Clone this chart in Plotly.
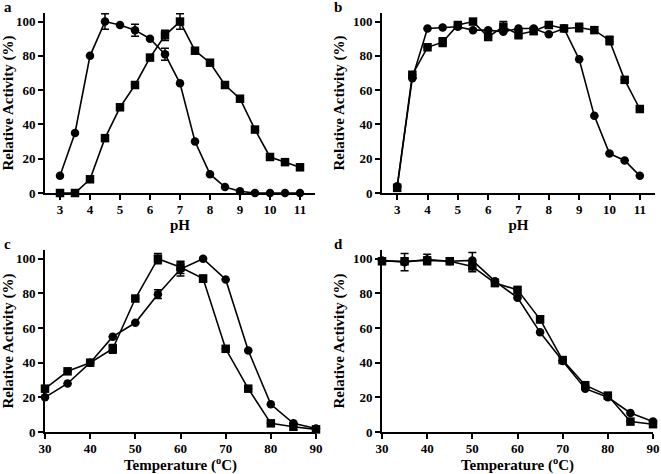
import plotly.graph_objects as go

# ---------------- data ----------------
ph = [3, 3.5, 4, 4.5, 5, 5.5, 6, 6.5, 7, 7.5, 8, 8.5, 9, 9.5, 10, 10.5, 11]
temp = [30, 35, 40, 45, 50, 55, 60, 65, 70, 75, 80, 85, 90]

a_circle = [10, 35, 80, 100, 98, 95, 90, 81, 64, 30, 11, 3.5, 1, 0, 0, 0, 0]
a_circle_err = [None, None, None, 4.5, None, 3.5, None, 3.5, None, None, None, None, None, None, None, None, None]
a_square = [0, 0, 8, 32, 50, 63, 79, 92, 100, 83, 76, 63, 55, 37, 21, 18, 15]
a_square_err = [None, None, None, None, None, None, None, 3, 4.5, None, None, None, None, None, None, None, None]

b_circle = [4, 67, 96, 96.5, 97, 95, 95, 94, 96, 96, 92.6, 96, 78, 45, 23, 19, 10]
b_circle_err = [None] * 17
b_square = [3, 69, 85, 88, 98, 100, 91, 97, 92.5, 94.5, 98, 96, 96.5, 95, 89, 66, 49]
b_square_err = [None, None, None, 2.5, None, None, None, 3, 2.5, 2, None, None, 2.5, None, 2.5, None, None]

c_circle = [20, 28, 40, 55, 63, 79.5, 94, 100, 88, 47, 16, 5, 2]
c_circle_err = [None, None, None, None, None, 2.5, 4, None, None, None, None, None, None]
c_square = [25, 35, 40, 48, 77, 100, 95, 88.5, 48, 25, 5, 3, 1.5]
c_square_err = [None, None, None, 2.5, None, 3, 3.5, 2, None, None, None, None, None]

d_circle = [99, 98, 99.5, 98.5, 99, 87, 77.5, 57.5, 41, 25, 20, 11, 6]
d_circle_err = [None, 5, 3, None, 4.5, None, None, None, None, None, None, None, None]
d_square = [98.5, 98.5, 99, 98.5, 95.5, 86, 82, 65, 41.5, 27, 21, 6, 4.5]
d_square_err = [None, None, None, None, 3, 2, None, 2, None, None, None, None, None]

ph_ticks = [3, 4, 5, 6, 7, 8, 9, 10, 11]
temp_ticks = [30, 40, 50, 60, 70, 80, 90]
y_ticks = [0, 20, 40, 60, 80, 100]

panels = [
    ("a", ph, a_circle, a_circle_err, a_square, a_square_err),
    ("b", ph, b_circle, b_circle_err, b_square, b_square_err),
    ("c", temp, c_circle, c_circle_err, c_square, c_square_err),
    ("d", temp, d_circle, d_circle_err, d_square, d_square_err),
]

W, H = 661, 474
FONT = "Liberation Serif"

# pixel boxes (left, right, top, bottom)
boxes = {
    "a": (45, 315, 13, 193),
    "b": (382, 655, 13, 193),
    "c": (45, 316, 250, 432),
    "d": (382, 653, 250, 432),
}

fig = go.Figure()
layout = dict(
    width=W, height=H, margin=dict(l=0, r=0, t=0, b=0, autoexpand=False),
    paper_bgcolor="white", plot_bgcolor="white", showlegend=False,
    font=dict(family=FONT, color="black"),
)

annotations = []
for i, (lab, xs, yc, ec, ys, es) in enumerate(panels):
    n = "" if i == 0 else str(i + 1)
    xa, ya = "x" + n, "y" + n
    l, r, t, b = boxes[lab]
    is_ph = lab in ("a", "b")
    err_style = dict(type="data", color="black", thickness=1.5, width=4, visible=True)
    fig.add_trace(go.Scatter(
        x=xs, y=ys, mode="lines+markers", xaxis=xa, yaxis=ya, cliponaxis=False,
        line=dict(color="black", width=1.6),
        marker=dict(symbol="square", size=8.5, color="black"),
        error_y=dict(array=es, **err_style)))
    fig.add_trace(go.Scatter(
        x=xs, y=yc, mode="lines+markers", xaxis=xa, yaxis=ya, cliponaxis=False,
        line=dict(color="black", width=1.6),
        marker=dict(symbol="circle", size=8.5, color="black"),
        error_y=dict(array=ec, **err_style)))
    axis_common = dict(showline=True, linecolor="black", linewidth=1.8, ticks="outside",
                       ticklen=5, tickwidth=1.5, tickcolor="black", showgrid=False,
                       zeroline=False, automargin=False,
                       tickfont=dict(family=FONT, size=13, color="black"))
    layout["xaxis" + n] = dict(
        domain=[l / W, r / W], anchor=ya,
        range=[2.5, 11.5] if is_ph else [30, 90],
        tickvals=ph_ticks if is_ph else temp_ticks,
        ticktext=[f"<b>{v}</b>" for v in (ph_ticks if is_ph else temp_ticks)],
        ticklabelstandoff=-2,
        title=dict(text="<b>pH</b>" if is_ph else "<b>Temperature (<sup>o</sup>C)</b>",
                   font=dict(family=FONT, size=15, color="black"),
                   standoff=0 if is_ph else 12),
        **axis_common)
    layout["yaxis" + n] = dict(
        domain=[1 - b / H, 1 - t / H], anchor=xa, range=[0, 105],
        tickvals=y_ticks, ticktext=[f"<b>{v}</b>" for v in y_ticks],
        title=dict(text="<b>Relative Activity (%)</b>",
                   font=dict(family=FONT, size=15, color="black"), standoff=5),
        **axis_common)
    annotations.append(dict(
        text=f"<b>{lab}</b>", xref="paper", yref="paper",
        x=(l - 43) / W if lab in ("a", "c") else (l - 50) / W,
        y=1 - (t - 6) / H, xanchor="left", yanchor="middle", showarrow=False,
        font=dict(family=FONT, size=15, color="black")))

layout["annotations"] = annotations
fig.update_layout(**layout)
fig.write_html("out.html", config={"displayModeBar": False},
               post_script="document.body.style.margin='0';document.body.style.overflow='hidden';")
